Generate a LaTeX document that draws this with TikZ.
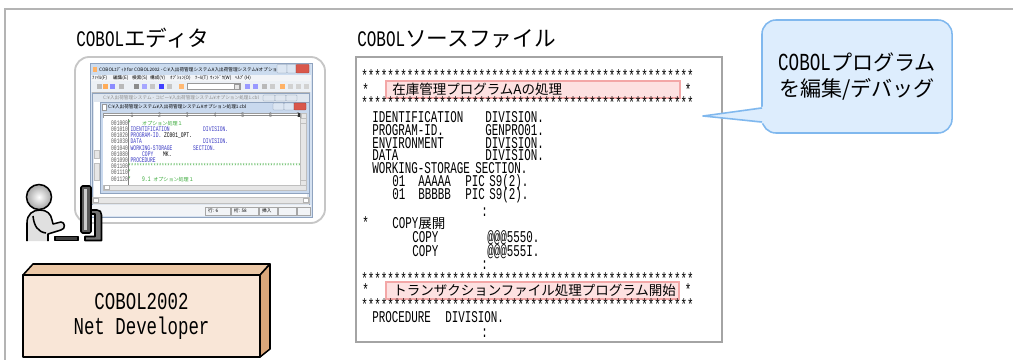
\documentclass[tikz,border=0pt]{standalone}
\usepackage{fontspec}
\setmainfont{Noto Sans CJK JP}
\newfontfamily\jpfont{Noto Sans CJK JP}
\newfontfamily\cblfont[FakeStretch=0.72]{Liberation Mono}
\newfontfamily\srcfont[FakeStretch=0.66]{Liberation Mono}

% one unit of the picture
\newlength\pxu
\setlength\pxu{0.025cm}
\newcommand\tabto[2]{\makebox[#1\pxu][l]{#2}}
\newcommand\starrow{***************************************************}

\definecolor{framegray}{HTML}{B4B4B4}
\definecolor{edgray}{HTML}{C6C6C6}
\definecolor{srcgray}{HTML}{A4A4A4}
\definecolor{boxfront}{HTML}{F9E6D7}
\definecolor{boxtop}{HTML}{ECC8A6}
\definecolor{boxside}{HTML}{D9A67A}
\definecolor{hlfill}{HTML}{FDE1E1}
\definecolor{hldraw}{HTML}{F3A7A7}
\definecolor{bubfill}{HTML}{DDEDFD}
\definecolor{bubdraw}{HTML}{80B8EE}
\definecolor{winedge}{HTML}{8FA3BF}
\definecolor{winframe}{HTML}{D6E2F1}
\definecolor{titlebar}{HTML}{CCDCEF}
\definecolor{menubar}{HTML}{F2F4F7}
\definecolor{toolbar}{HTML}{ECF0F5}
\definecolor{wonefr}{HTML}{DFE6EF}
\definecolor{wtwofr}{HTML}{C9D9EE}
\definecolor{btnfill}{HTML}{DCE6F2}
\definecolor{btnedge}{HTML}{8797AD}
\definecolor{closefill}{HTML}{D9574B}
\definecolor{closeedge}{HTML}{9E3A31}
\definecolor{codeblue}{HTML}{3B3BC4}
\definecolor{codegreen}{HTML}{36A836}
\definecolor{numgray}{HTML}{5A5A5A}
\definecolor{scrollgray}{HTML}{E6E6E6}

\tikzset{
  frameline/.style={draw=framegray, line width=1.1pt},
  heading/.style={anchor=base west, inner sep=0pt, font=\jpfont\fontsize{15.4}{17}\selectfont},
  srcline/.style={anchor=base west, inner sep=0pt, font=\srcfont\fontsize{11.7}{13}\selectfont},
  srcjp/.style={anchor=west, inner sep=0pt, font=\jpfont\fontsize{9.6}{11}\selectfont},
  hilite/.style={draw=hldraw, fill=hlfill, line width=0.8pt},
  box3d/.style={draw=black, line width=1.1pt, line join=round},
  bubble/.style={draw=bubdraw, fill=bubfill, line width=1.1pt, rounded corners=10pt,
    minimum width=4.75cm, minimum height=2.825cm, align=center,
    font=\jpfont\fontsize{15}{18.5}\selectfont},
  scrtxt/.style={anchor=west, inner sep=0pt, font=\jpfont\fontsize{3.3}{4}\selectfont},
  edcode/.style={anchor=base west, inner sep=0pt, font=\srcfont\fontsize{5}{6}\selectfont},
  winbtn/.style={draw=btnedge, fill=btnfill, line width=0.2pt, rounded corners=0.5pt},
  closebtn/.style={draw=closeedge, fill=closefill, line width=0.2pt, rounded corners=0.5pt},
  scrollbar/.style={draw=black!25, fill=scrollgray, line width=0.2pt},
  person/.style={draw=black, line width=1.1pt, line join=round},
}

\begin{document}
\begin{tikzpicture}[x=0.025cm, y=-0.025cm]
  \useasboundingbox (0,0) rectangle (1013,360);

  % frame of the figure
  \draw[frameline] (5,360) -- (5,9) -- (1013,9);

  \node[heading] (edtitle)  at (76,47)  {{\cblfont\fontsize{15.8}{18}\selectfont COBOL}エディタ};
  \node[heading] (srctitle) at (357,47) {{\cblfont\fontsize{15.8}{18}\selectfont COBOL}ソースファイル};

  % editor screen
  \draw[draw=edgray, fill=white, line width=1.3pt, rounded corners=10pt] (75,57) rectangle (325,223);

  \begin{scope}[line width=0.3pt]
    \draw[draw=winedge, fill=winframe] (90,63) rectangle (312,217);
    \fill[titlebar] (91,64) rectangle (311,75);
    \fill[orange!60] (92.5,67) rectangle (97,72);
    \node[scrtxt] (apptitle) at (99,70)
      {COBOLｴﾃﾞｨﾀ for COBOL2002 - C:¥入出荷管理システム¥入出荷管理システム¥オプション処...};
    \draw[winbtn]   (277,64.5) rectangle (287,73);
    \draw[winbtn]   (287,64.5) rectangle (296,73);
    \draw[closebtn] (296,64.5) rectangle (309,73);

    % menu and tool bar
    \fill[menubar] (91,75) rectangle (311,81);
    \foreach \mx/\mt in {92/ﾌｧｲﾙ(F), 113/編集(E), 132/検索(S), 150/構成(Y),
                         170/ｵﾌﾟｼｮﾝ(O), 195/ﾂｰﾙ(T), 210/ｳｨﾝﾄﾞｳ(W), 235/ﾍﾙﾌﾟ(H)}
      \node[scrtxt] (menu\mx) at (\mx,78) {\mt};
    \fill[toolbar] (91,81) rectangle (311,92);
    \foreach \ix/\ic in {97/gray!55, 103/orange!65, 110/blue!45, 119/gray!55, 134/black!45,
                         142/blue!35, 150/gray!45, 159/blue!75, 167/gray!45, 179/orange!55,
                         245/blue!40, 253/blue!40, 262/gray!55, 270/gray!40, 280/orange!60,
                         288/gray!35, 296/gray!35, 304/gray!35}
      \fill[\ic] (\ix,84) rectangle ++(5,5);
    \draw[draw=black!40, fill=white] (187,83.5) rectangle (240,89.5);
    \draw[draw=black!40, fill=scrollgray] (234.5,84) rectangle (239.5,89);

    % window behind
    \fill[black!28] (92,92) rectangle (310,205);
    \draw[draw=winedge, fill=wonefr] (92,93) rectangle (309,205);
    \node[scrtxt, text=black!45] (wonetitle) at (103,98)
      {C:¥入出荷管理システム - コピー¥入出荷管理システム¥オプション処理1.cbl};
    \draw[winbtn, fill=wonefr] (263,95) rectangle (275,101);
    \draw[winbtn, fill=wonefr] (275,95) rectangle (286,101);
    \draw[winbtn, fill=wonefr] (286,95) rectangle (297,101);
    \fill[white] (94,102) rectangle (307,197);
    \draw[scrollbar] (94,150) rectangle (99,158);
    \draw[scrollbar] (94,163) rectangle (99,180);

    % active window
    \draw[draw=winedge, fill=wtwofr] (100,102) rectangle (309,193);
    \draw[draw=black!40, fill=white] (102,104) rectangle (106,110);
    \node[scrtxt] (wtwotitle) at (108,107)
      {C:¥入出荷管理システム¥入出荷管理システム¥オプション処理1.cbl};
    \draw[winbtn]   (273,103) rectangle (284,110);
    \draw[winbtn]   (284,103) rectangle (294,110);
    \draw[closebtn] (294,103) rectangle (306,110);

    % ruler
    \draw[draw=black!40, fill=white] (103,113) rectangle (300,118);
    \draw[black!45] (104,115.5) -- (299,115.5);
    \foreach \k in {1,...,7}
      \node[edcode, text=black!60] (rul\k) at ({104+27.7*\k-1.4},117.5) {\k};
    \fill[black!80] (298,113.5) rectangle (299.5,117.5);
    \draw[scrollbar] (301,113) rectangle (306,118);

    % code area
    \fill[white] (103,118) rectangle (300,185);
    \draw[black!50] (128,119) -- (128,185);
    \begin{scope}
      \clip (103,118) rectangle (300,185);
      \node[edcode] (cl1) at (111,125.3)
        {\tabto{17}{\color{numgray}001000}\color{codegreen}\tabto{14}{*}{\jpfont\fontsize{3.6}{4}\selectfont オプション処理１}};
      \node[edcode] (cl2) at (111,131.5)
        {\tabto{19.5}{\color{numgray}001010}\color{codeblue}\tabto{72.5}{IDENTIFICATION}DIVISION.};
      \node[edcode] (cl3) at (111,137.7)
        {\tabto{19.5}{\color{numgray}001020}\textcolor{codeblue}{PROGRAM-ID.} ZC001\_OPT.};
      \node[edcode] (cl4) at (111,143.9)
        {\tabto{19.5}{\color{numgray}001030}\color{codeblue}\tabto{72.5}{DATA}DIVISION.};
      \node[edcode] (cl5) at (111,150.1)
        {\tabto{19.5}{\color{numgray}001040}\color{codeblue}\tabto{62.5}{WORKING-STORAGE}SECTION.};
      \node[edcode] (cl6) at (111,156.3)
        {\tabto{31}{\color{numgray}001080}\textcolor{codeblue}{\tabto{21}{COPY}}MK.};
      \node[edcode] (cl7) at (111,162.5)
        {\tabto{19.5}{\color{numgray}001090}\color{codeblue}PROCEDURE};
      \node[edcode] (cl8) at (111,168.7)
        {\tabto{17}{\color{numgray}001100}\color{codegreen}\starrow\starrow};
      \node[edcode] (cl9) at (111,174.9)
        {\tabto{17}{\color{numgray}001110}\color{codegreen}*};
      \node[edcode] (cl10) at (111,181.1)
        {\tabto{17}{\color{numgray}001120}\color{codegreen}\tabto{14}{*}9.1 {\jpfont\fontsize{3.6}{4}\selectfont オプション処理１}};
    \end{scope}
    \draw[scrollbar] (300,118) rectangle (306,185);
    \draw[scrollbar] (300,118) rectangle (306,123);
    \draw[scrollbar] (300,180) rectangle (306,185);
    \draw[scrollbar] (103,185) rectangle (306,190);
    \draw[draw=black!30, fill=white] (104,185.5) rectangle (109,189.5);

    % bottom scroll bar and status bar
    \draw[scrollbar] (92,197) rectangle (309,203);
    \draw[draw=black!30, fill=white] (93,198) rectangle (98,202);
    \draw[draw=black!30, fill=white] (303,198) rectangle (308,202);
    \fill[menubar] (91,205) rectangle (311,216);
    \foreach \sa/\sb in {205/230, 231/258, 259/277, 278/296, 297/310}
      \draw[black!35] (\sa,207) rectangle (\sb,215);
    \node[scrtxt] (stline) at (208,211) {行: 6};
    \node[scrtxt] (stcol)  at (234,211) {桁: 58};
    \node[scrtxt] (stins)  at (262,211) {挿入};
  \end{scope}

  % user at the desk
  \fill[black!12] (27,241) -- (27,223) .. controls (27,214) and (33,210) .. (40,210)
    .. controls (47,210) and (51,214) .. (52,220) -- (53,224) -- (61,222)
    .. controls (65,222) and (66,229) .. (61,230) -- (48,234) -- (48,241) -- cycle;
  \draw[person] (27,241) -- (27,223) .. controls (27,214) and (33,210) .. (40,210)
    .. controls (47,210) and (51,214) .. (52,220) -- (53,224) -- (61,222)
    .. controls (65,222) and (66,229) .. (61,230) -- (48,234) -- (48,241);
  \draw[person] (33,216) .. controls (34,226) and (38,232) .. (46,233);
  \draw[person, inner color=white, outer color=black!35] (39,197) circle (12.5);
  \draw[person, fill=black!75] (55,236.5) rectangle (78,240.5);
  \draw[person, fill=black!55] (91,210) -- (97,210) .. controls (100,210) and (101.5,212) .. (101.5,215)
    -- (101.5,240.5) -- (85,240.5) -- (85,236.5) -- (95,236.5) -- (95,214) -- (91,214) -- cycle;
  \draw[person, fill=black!65, rounded corners=1pt] (81,186) rectangle (91,233);
  \fill[black!20] (83.5,189) rectangle (87,230);

  % product box
  \draw[box3d, fill=boxtop]  (23,275) -- (33,264) -- (270,264) -- (260,275) -- cycle;
  \draw[box3d, fill=boxside] (260,275) -- (270,264) -- (270,349) -- (260,357) -- cycle;
  \draw[box3d, fill=boxfront] (23,275) rectangle (260,357);
  \node[font=\cblfont\fontsize{17.2}{17.8}\selectfont, align=center, inner sep=0pt]
    (netdev) at (141.5,316) {COBOL2002\\Net Developer};

  % source listing
  \draw[draw=srcgray, fill=white, line width=1.2pt] (356,57) rectangle (722,342);

  \node[srcline] (rowa) at (361,81.8) {\starrow};
  \draw[hilite] (386,81) rectangle (680,98);
  \node[srcline] (asta) at (362,95.8) {*};
  \node[srcjp] (cmta) at (392,89.5) {在庫管理プログラムAの処理};
  \node[srcline] (astb) at (684.7,95.8) {*};
  \node[srcline] (rowb) at (361,108.8) {\starrow};

  \node[srcline] (ident) at (372,122.5) {\tabto{113}{IDENTIFICATION}DIVISION.};
  \node[srcline] (pgmid) at (372,135.3) {\tabto{113}{PROGRAM-ID.}GENPRO01.};
  \node[srcline] (envd)  at (372,148.1) {\tabto{113}{ENVIRONMENT}DIVISION.};
  \node[srcline] (datad) at (372,161)   {\tabto{113}{DATA}DIVISION.};
  \node[srcline] (wsect) at (372,173.8) {\tabto{103}{WORKING-STORAGE}SECTION.};
  \node[srcline] (itema) at (392,186.8) {\tabto{26}{01}\tabto{47}{AAAAA}\tabto{24}{PIC}S9(2).};
  \node[srcline] (itemb) at (392,199.8) {\tabto{26}{01}\tabto{47}{BBBBB}\tabto{24}{PIC}S9(2).};
  \node[srcline] (dota)  at (481,216.2) {:};

  \node[srcline] (astc) at (362,228.8) {*};
  \node[srcline] (cpyhd) at (392,228.5) {COPY{\jpfont\fontsize{9.6}{11}\selectfont 展開}};
  \node[srcline] (cpya) at (412,242.5) {\tabto{75}{COPY}@@@5550.};
  \node[srcline] (cpyb) at (412,256.5) {\tabto{75}{COPY}@@@555I.};
  \node[srcline] (dotb) at (481,269.2) {:};

  \node[srcline] (rowc) at (361,284.8) {\starrow};
  \draw[hilite] (386,282) rectangle (679,299);
  \node[srcline] (astd) at (362,295.8) {*};
  \node[srcjp] (cmtb) at (393,290.5) {トランザクションファイル処理プログラム開始};
  \node[srcline] (aste) at (684.7,295.8) {*};
  \node[srcline] (rowd) at (361,310.8) {\starrow};

  \node[srcline] (procd) at (372,322.5) {\tabto{73}{PROCEDURE}DIVISION.};
  \node[srcline] (dotc)  at (481,337.2) {:};

  % callout
  \node[bubble] (bub) at (857,76.5)
    {{\cblfont\fontsize{17.4}{18.5}\selectfont COBOL}プログラム\\を編集/デバッグ};
  \coordinate (tip) at (703,116);
  \coordinate (ptra) at (762,108);
  \coordinate (ptrb) at (762,122);
  \fill[bubfill] (tip) -- (764,106.5) -- (764,123.5) -- cycle;
  \draw[draw=bubdraw, line width=1.1pt, line join=round] (ptra) -- (tip) -- (ptrb);
\end{tikzpicture}
\end{document}
